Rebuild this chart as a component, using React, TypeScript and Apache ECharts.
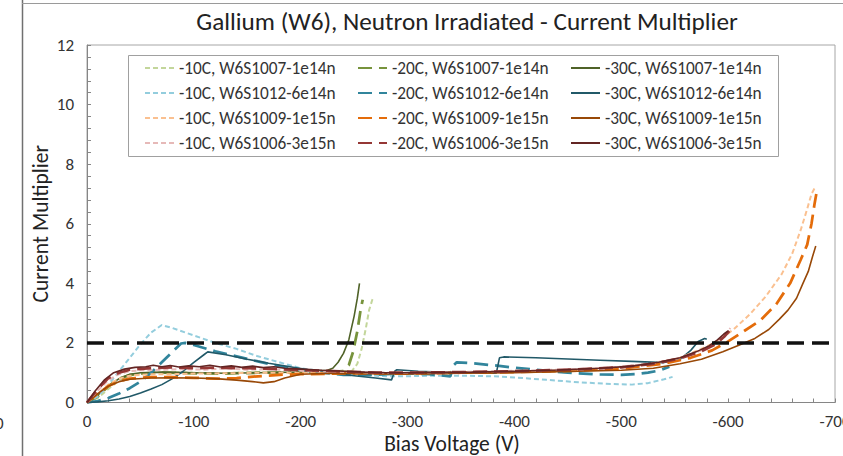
import React, { useEffect, useRef } from "react";
import * as echarts from "echarts";

type Pt = [number, number];

const TITLE = "Gallium (W6), Neutron Irradiated - Current Multiplier";
const X_NAME = "Bias Voltage (V)";
const Y_NAME = "Current Multiplier";

// W6S1007-1e14n
const s1007_m10: Pt[] = [
  [0, 0], [-10, 0.15], [-20, 0.45], [-30, 0.75], [-40, 0.9], [-50, 0.97], [-60, 1.0], [-80, 1.02],
  [-100, 1.0], [-120, 0.98], [-140, 1.0], [-160, 1.02], [-180, 1.0], [-200, 1.02], [-220, 1.04],
  [-240, 1.05], [-248, 1.06], [-253, 1.3], [-257, 1.8], [-261, 2.5], [-264, 3.1], [-267, 3.45], [-269, 3.55],
];
const s1007_m20: Pt[] = [
  [0, 0], [-10, 0.2], [-20, 0.55], [-30, 0.8], [-40, 0.92], [-50, 0.97], [-70, 1.0], [-100, 0.98],
  [-130, 0.97], [-160, 1.0], [-190, 1.0], [-220, 1.02], [-240, 1.05], [-245, 1.25], [-249, 1.7],
  [-253, 2.4], [-256, 3.1], [-258, 3.45],
];
const s1007_m30: Pt[] = [
  [0, 0], [-10, 0.25], [-20, 0.55], [-30, 0.8], [-40, 0.95], [-50, 1.0], [-70, 1.02], [-100, 1.0],
  [-130, 0.98], [-160, 1.0], [-190, 1.02], [-210, 1.05], [-225, 1.08], [-230, 1.15], [-235, 1.35],
  [-240, 1.65], [-245, 2.1], [-250, 2.9], [-253, 3.5], [-255, 4.0],
];

// W6S1012-6e14n
const s1012_m10: Pt[] = [
  [0, 0], [-10, 0.2], [-20, 0.6], [-30, 1.05], [-40, 1.5], [-50, 1.95], [-60, 2.35], [-70, 2.6],
  [-80, 2.5], [-100, 2.25], [-120, 2.0], [-140, 1.8], [-160, 1.55], [-180, 1.35], [-200, 1.15],
  [-220, 1.05], [-240, 0.98], [-260, 0.92], [-280, 0.88], [-300, 0.88], [-320, 0.9], [-350, 0.9],
  [-380, 0.88], [-400, 0.84], [-430, 0.76], [-460, 0.68], [-490, 0.62], [-510, 0.6], [-525, 0.65],
  [-540, 0.78], [-548, 0.86],
];
const s1012_m20: Pt[] = [
  [0, 0], [-10, 0.05], [-20, 0.15], [-30, 0.3], [-40, 0.48], [-50, 0.7], [-60, 1.0], [-70, 1.35],
  [-80, 1.7], [-88, 1.98], [-92, 2.0], [-100, 1.93], [-120, 1.72], [-140, 1.55], [-160, 1.38],
  [-180, 1.22], [-200, 1.1], [-220, 1.0], [-240, 0.93], [-260, 0.92], [-280, 0.95], [-300, 0.98],
  [-320, 0.95], [-340, 0.88], [-343, 1.25], [-346, 1.35], [-360, 1.32], [-380, 1.25], [-400, 1.17],
  [-420, 1.1], [-450, 1.0], [-480, 0.94], [-500, 0.93], [-515, 0.96], [-525, 1.0], [-535, 1.07],
  [-545, 1.2],
];
const s1012_m30: Pt[] = [
  [0, 0], [-10, 0.02], [-20, 0.06], [-30, 0.12], [-40, 0.2], [-50, 0.32], [-60, 0.45], [-70, 0.6],
  [-80, 0.8], [-90, 1.05], [-100, 1.35], [-110, 1.62], [-113, 1.7], [-130, 1.6], [-150, 1.45],
  [-170, 1.32], [-190, 1.2], [-210, 1.08], [-230, 0.98], [-250, 0.9], [-270, 0.82], [-285, 0.76],
  [-288, 1.05], [-290, 1.1], [-310, 1.05], [-330, 1.02], [-360, 1.0], [-383, 0.98], [-386, 1.5],
  [-390, 1.53], [-420, 1.5], [-450, 1.46], [-480, 1.42], [-510, 1.38], [-540, 1.34], [-555, 1.45],
  [-565, 1.75], [-572, 2.05], [-578, 2.15], [-580, 2.12],
];

// W6S1009-1e15n
const s1009_m10: Pt[] = [
  [0, 0], [-10, 0.3], [-20, 0.6], [-30, 0.8], [-40, 0.9], [-60, 0.95], [-80, 0.95], [-100, 0.97],
  [-130, 0.98], [-160, 1.0], [-200, 1.0], [-250, 1.0], [-300, 0.98], [-350, 1.0], [-400, 1.02],
  [-450, 1.08], [-500, 1.18], [-530, 1.3], [-555, 1.5], [-575, 1.8], [-590, 2.05], [-605, 2.45],
  [-620, 2.95], [-635, 3.55], [-650, 4.3], [-660, 5.0], [-668, 5.8], [-674, 6.5], [-678, 7.0], [-681, 7.2],
];
const s1009_m20: Pt[] = [
  [0, 0], [-10, 0.3], [-20, 0.55], [-30, 0.72], [-40, 0.8], [-60, 0.85], [-80, 0.85], [-100, 0.83],
  [-120, 0.8], [-140, 0.82], [-160, 0.88], [-180, 0.93], [-200, 0.95], [-250, 0.98], [-300, 0.97],
  [-350, 1.0], [-400, 1.02], [-450, 1.06], [-500, 1.14], [-540, 1.3], [-565, 1.5], [-585, 1.75],
  [-600, 2.05], [-615, 2.4], [-630, 2.75], [-645, 3.3], [-658, 4.0], [-668, 4.8], [-674, 5.3],
  [-678, 6.0], [-681, 6.7], [-683, 7.1],
];
const s1009_m30: Pt[] = [
  [0, 0], [-10, 0.3], [-20, 0.55], [-30, 0.7], [-40, 0.78], [-60, 0.82], [-80, 0.83], [-100, 0.82],
  [-120, 0.8], [-140, 0.75], [-155, 0.7], [-165, 0.66], [-175, 0.7], [-185, 0.82], [-200, 0.95],
  [-230, 0.98], [-260, 0.97], [-300, 0.96], [-350, 0.98], [-400, 1.0], [-450, 1.04], [-500, 1.08],
  [-530, 1.15], [-555, 1.3], [-575, 1.45], [-595, 1.7], [-610, 1.92], [-625, 2.15], [-638, 2.45],
  [-648, 2.8], [-656, 3.1], [-664, 3.5], [-670, 4.0], [-675, 4.4], [-679, 4.9], [-682, 5.25],
];

// W6S1006-3e15n
const s1006_m10: Pt[] = [
  [0, 0], [-10, 0.4], [-20, 0.75], [-30, 0.95], [-40, 1.05], [-50, 1.08], [-70, 1.1], [-90, 1.12],
  [-110, 1.1], [-130, 1.15], [-150, 1.1], [-170, 1.12], [-190, 1.08], [-210, 1.05], [-240, 1.03],
  [-270, 1.0], [-300, 1.0], [-340, 1.02], [-380, 1.05], [-420, 1.08], [-460, 1.12], [-500, 1.2],
  [-530, 1.32], [-555, 1.5], [-575, 1.75], [-590, 2.05], [-598, 2.3], [-602, 2.5],
];
const s1006_m20: Pt[] = [
  [0, 0], [-10, 0.45], [-20, 0.82], [-30, 1.0], [-40, 1.1], [-60, 1.15], [-80, 1.18], [-100, 1.15],
  [-120, 1.17], [-150, 1.15], [-180, 1.12], [-210, 1.08], [-240, 1.04], [-270, 1.0], [-300, 1.0],
  [-350, 1.02], [-400, 1.05], [-450, 1.1], [-500, 1.18], [-530, 1.3], [-555, 1.48], [-575, 1.72],
  [-588, 1.95], [-596, 2.2], [-601, 2.4],
];
const s1006_m30: Pt[] = [
  [0, 0], [-8, 0.4], [-16, 0.75], [-25, 1.0], [-35, 1.12], [-45, 1.18], [-55, 1.2], [-62, 1.25],
  [-70, 1.2], [-78, 1.24], [-86, 1.19], [-95, 1.23], [-105, 1.2], [-115, 1.25], [-125, 1.19],
  [-135, 1.23], [-145, 1.18], [-155, 1.22], [-165, 1.17], [-175, 1.2], [-185, 1.15], [-200, 1.12],
  [-220, 1.08], [-240, 1.05], [-260, 1.02], [-280, 1.0], [-300, 1.0], [-330, 1.01], [-360, 1.02],
  [-400, 1.05], [-440, 1.09], [-480, 1.15], [-510, 1.22], [-535, 1.35], [-555, 1.5], [-570, 1.7],
  [-582, 1.9], [-590, 2.1], [-596, 2.3], [-600, 2.4],
];

// Horizontal reference level
const thresholdLevel = 2;
const thresholdSpan: number[] = [0, -700];

type Style = "short" | "long" | "solid";
interface Def { name: string; data: Pt[]; color: string; style: Style }

const defs: Def[] = [
  { name: "-10C, W6S1007-1e14n", data: s1007_m10, color: "#c3d69b", style: "short" },
  { name: "-20C, W6S1007-1e14n", data: s1007_m20, color: "#77933c", style: "long" },
  { name: "-30C, W6S1007-1e14n", data: s1007_m30, color: "#4f6228", style: "solid" },
  { name: "-10C, W6S1012-6e14n", data: s1012_m10, color: "#93cddd", style: "short" },
  { name: "-20C, W6S1012-6e14n", data: s1012_m20, color: "#31859c", style: "long" },
  { name: "-30C, W6S1012-6e14n", data: s1012_m30, color: "#215968", style: "solid" },
  { name: "-10C, W6S1009-1e15n", data: s1009_m10, color: "#fac090", style: "short" },
  { name: "-20C, W6S1009-1e15n", data: s1009_m20, color: "#e46c0a", style: "long" },
  { name: "-30C, W6S1009-1e15n", data: s1009_m30, color: "#984807", style: "solid" },
  { name: "-10C, W6S1006-3e15n", data: s1006_m10, color: "#e6b9b8", style: "short" },
  { name: "-20C, W6S1006-3e15n", data: s1006_m20, color: "#953735", style: "long" },
  { name: "-30C, W6S1006-3e15n", data: s1006_m30, color: "#632523", style: "solid" },
];

const FONT = "Carlito, 'Open Sans', sans-serif";

function lineStyleFor(d: Def) {
  if (d.style === "short") return { color: d.color, width: 2, type: [5, 3] as number[] };
  if (d.style === "long") return { color: d.color, width: 2.75, type: [14, 7] as number[] };
  return { color: d.color, width: 1.6, type: "solid" as const };
}

export default function App() {
  const ref = useRef<HTMLDivElement>(null);

  useEffect(() => {
    if (!ref.current) return;
    const chart = echarts.init(ref.current, undefined, { renderer: "svg" });

    const legendCols = [0, 1, 2].map((c) => ({
      orient: "vertical" as const,
      left: 144 + c * 213,
      top: 59,
      padding: 0,
      itemGap: 7,
      itemWidth: 29,
      itemHeight: 18,
      selectedMode: false,
      itemStyle: { opacity: 0, borderWidth: 0 },
      textStyle: { fontFamily: FONT, fontSize: 17.3, lineHeight: 18, color: "#333" },
      data: defs.filter((_, i) => i % 3 === c).map((d) => d.name),
    }));

    chart.setOption({
      animation: false,
      backgroundColor: "#ffffff",
      title: {
        text: TITLE,
        left: 467,
        textAlign: "center",
        top: 9,
        padding: 0,
        textStyle: { fontFamily: FONT, fontSize: 25.2, fontWeight: "normal", color: "#222" },
      },
      legend: legendCols,
      grid: {
        left: 87,
        right: 8,
        top: 45,
        bottom: 53.5,
        show: true,
        borderColor: "#a6a6a6",
        borderWidth: 1,
        outerBoundsMode: "none",
      },
      xAxis: {
        type: "value",
        min: -700,
        max: 0,
        interval: 100,
        inverse: true,
        name: X_NAME,
        nameLocation: "middle",
        nameGap: 31,
        nameMoveOverlap: false,
        nameTextStyle: { fontFamily: FONT, fontSize: 21.5, lineHeight: 20, color: "#222", padding: [0, 18, 0, 0] },
        axisLine: { show: true, lineStyle: { color: "#868686", width: 1 } },
        axisTick: { show: true, inside: true, length: 4, lineStyle: { color: "#868686" } },
        minorTick: { show: true, splitNumber: 5, length: 4, lineStyle: { color: "#868686" } },
        splitLine: { show: false },
        axisLabel: { fontFamily: FONT, fontSize: 17, lineHeight: 17, color: "#333", margin: 10 },
      },
      yAxis: {
        type: "value",
        min: 0,
        max: 12,
        interval: 2,
        name: Y_NAME,
        nameLocation: "middle",
        nameGap: 35,
        nameMoveOverlap: false,
        nameTextStyle: { fontFamily: FONT, fontSize: 21.5, color: "#222" },
        axisLine: { show: true, lineStyle: { color: "#868686", width: 1 } },
        axisTick: { show: true, inside: true, length: 4, lineStyle: { color: "#868686" } },
        minorTick: { show: true, splitNumber: 5, length: 4, lineStyle: { color: "#868686" } },
        splitLine: { show: false },
        axisLabel: { fontFamily: FONT, fontSize: 17, color: "#333", margin: 13 },
      },
      graphic: [
        { type: "line", shape: { x1: 22.5, y1: 0, x2: 22.5, y2: 456 }, style: { stroke: "#707070", lineWidth: 1.5 } },
        { type: "line", shape: { x1: 22, y1: 3.5, x2: 843, y2: 3.5 }, style: { stroke: "#9a9a9a", lineWidth: 1 } },
        { type: "rect", shape: { x: 128.5, y: 55.5, width: 650, height: 101 }, style: { fill: "none", stroke: "#a0a0a0", lineWidth: 1 } },
        { type: "text", left: -5, top: 415, style: { text: "0", fontFamily: FONT, fontSize: 17, fill: "#333" } },
      ],
      series: [
        ...defs.map((d) => ({
          name: d.name,
          type: "line",
          data: d.data,
          symbol: "none",
          showSymbol: false,
          lineStyle: lineStyleFor(d),
          itemStyle: { color: d.color },
        })),
        {
          name: "threshold",
          type: "line",
          data: thresholdSpan.map((v) => [v, thresholdLevel]),
          symbol: "none",
          silent: true,
          z: 5,
          lineStyle: { color: "#111", width: 3.5, type: [17, 8] },
        },
      ],
    });

    return () => chart.dispose();
  }, []);

  return (
    <div
      ref={ref}
      style={{ position: "fixed", left: 0, top: 0, width: 843, height: 456 }}
    />
  );
}
